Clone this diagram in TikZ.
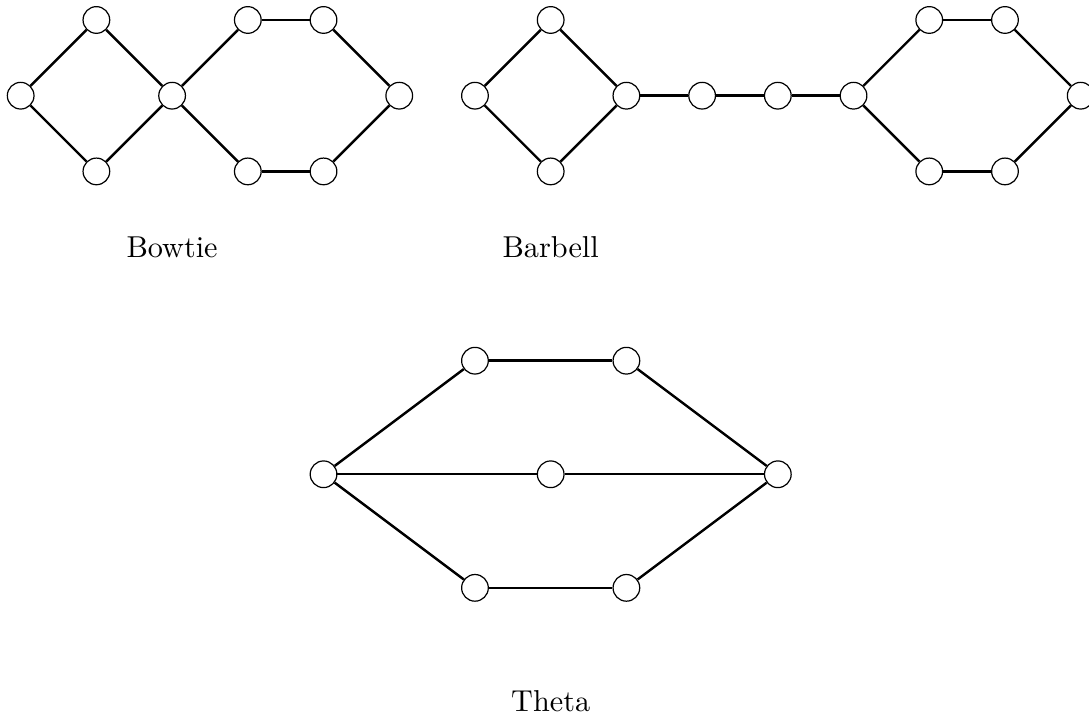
\documentclass[tikz,border=0pt]{standalone}
\begin{document}
\begin{tikzpicture}[x=0.88cm,y=0.88cm]
\tikzset{vertex/.style={circle,draw,fill=white,minimum size=0.31cm,inner sep=0pt},
	edge/.style={thick}}
\useasboundingbox (-0.273,-8.207) rectangle (14.11,1.264);
% bowtie
\foreach \name/\x/\y in {bw1/0/0,bw2/1/1,bw3/1/-1,bw4/2/0,bw5/3/1,bw6/4/1,bw7/5/0,bw8/3/-1,bw9/4/-1}{
	\node[vertex] (\name) at (\x,\y) {};
}
\foreach \u/\v in {bw1/bw2,bw2/bw4,bw4/bw3,bw3/bw1,bw4/bw5,bw5/bw6,bw6/bw7,bw7/bw9,bw9/bw8,bw8/bw4}{
	\draw[edge] (\u) -- (\v);
}
\node[anchor=base] (bwlabel) at (2,-2.14) {Bowtie};
% barbell
\foreach \name/\x/\y in {bb1/6/0,bb2/7/1,bb3/7/-1,bb4/8/0,bb5/9/0,bb6/10/0,bb7/11/0,bb8/12/1,bb9/13/1,bb10/14/0,bb11/12/-1,bb12/13/-1}{
	\node[vertex] (\name) at (\x,\y) {};
}
\foreach \u/\v in {bb1/bb2,bb2/bb4,bb4/bb3,bb3/bb1,bb4/bb5,bb5/bb6,bb6/bb7,bb7/bb8,bb8/bb9,bb9/bb10,bb10/bb12,bb12/bb11,bb11/bb7}{
	\draw[edge] (\u) -- (\v);
}
\node[anchor=base] (bblabel) at (7,-2.14) {Barbell};
% theta
\foreach \name/\x/\y in {th1/4/-5,th2/6/-3.5,th3/8/-3.5,th4/10/-5,th5/7/-5,th6/6/-6.5,th7/8/-6.5}{
	\node[vertex] (\name) at (\x,\y) {};
}
\foreach \u/\v in {th1/th2,th2/th3,th3/th4,th1/th5,th5/th4,th1/th6,th6/th7,th7/th4}{
	\draw[edge] (\u) -- (\v);
}
\node[anchor=base] (thlabel) at (7,-8.13) {Theta};
\end{tikzpicture}
\end{document}
